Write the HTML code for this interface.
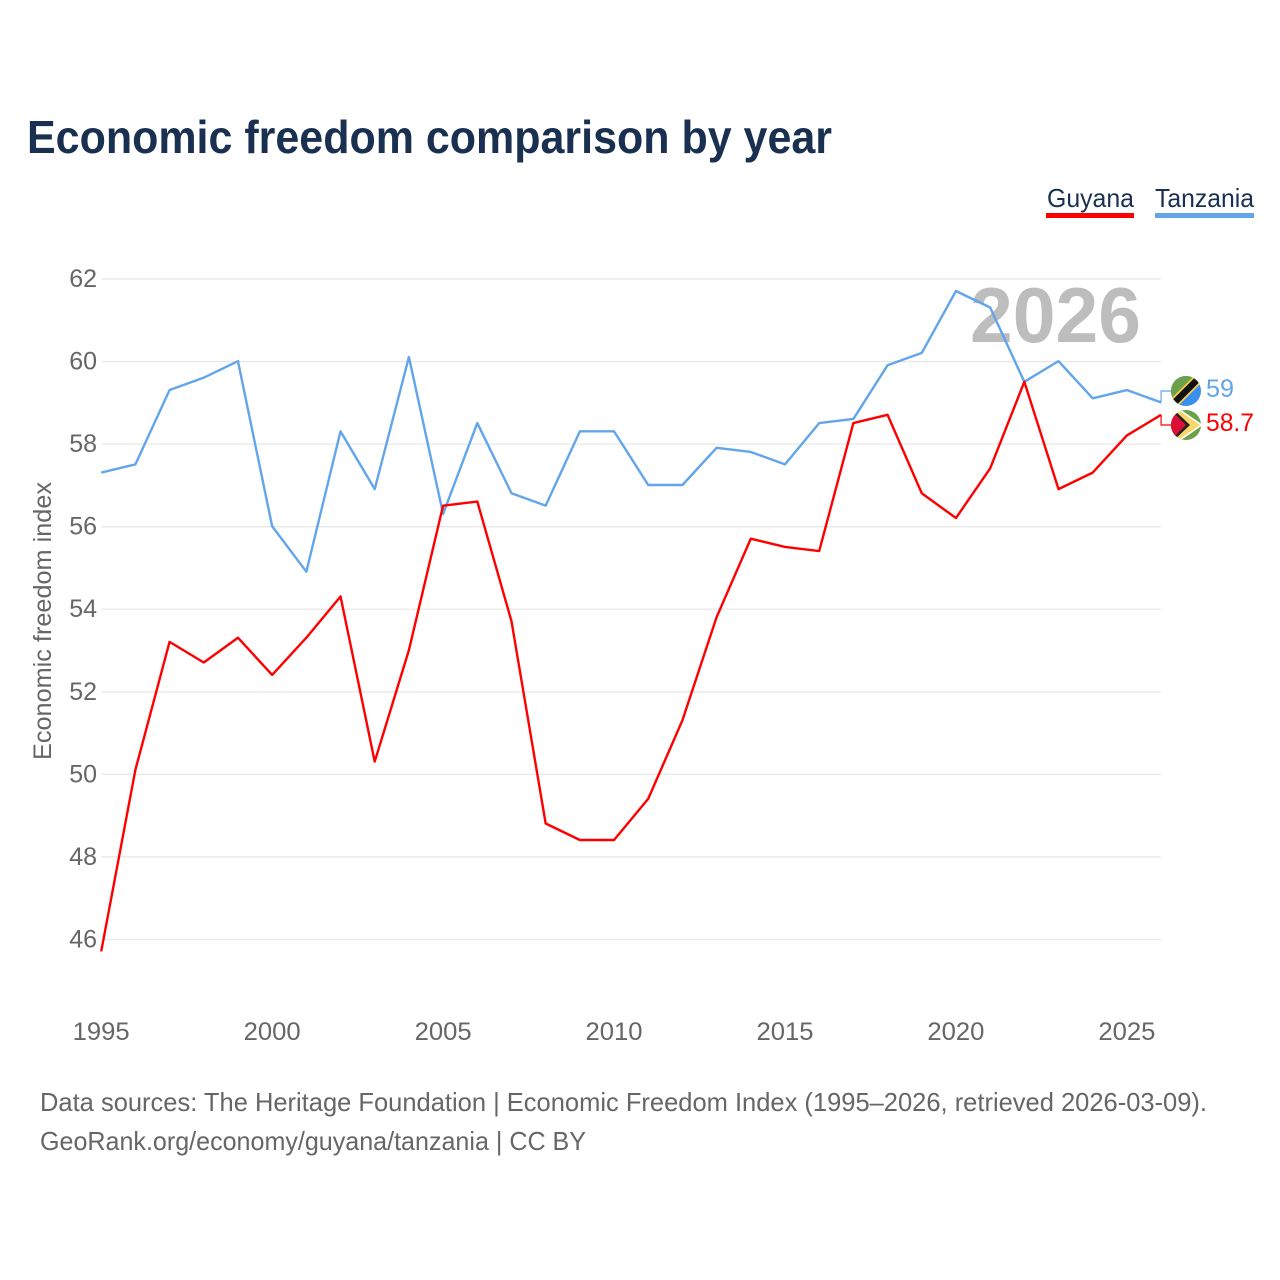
<!DOCTYPE html>
<html>
<head>
<meta charset="utf-8">
<style>
html,body{margin:0;padding:0;background:#fff;}
svg{display:block;}
text{font-family:"Liberation Sans",sans-serif;}
</style>
</head>
<body>
<svg id="chart" width="1280" height="1280" viewBox="0 0 1280 1280" xmlns="http://www.w3.org/2000/svg">
  <defs>
    <clipPath id="flag-clip-tz"><circle cx="1186" cy="391" r="15"/></clipPath>
    <clipPath id="flag-clip-gy"><circle cx="1186" cy="425" r="15"/></clipPath>
  </defs>
  <rect width="1280" height="1280" fill="#fff"/>
  <text x="27" y="153" font-size="46" font-weight="700" fill="#1a3050" textLength="805" lengthAdjust="spacingAndGlyphs">Economic freedom comparison by year</text>
  <g id="grid"></g>
  <text x="970" y="342" font-size="78" font-weight="700" fill="#bdbdbd" textLength="171" lengthAdjust="spacingAndGlyphs">2026</text>
  <g id="yticks"></g>
  <g id="xticks"></g>
  <text transform="translate(51,760) rotate(-90)" font-size="25" fill="#666" textLength="278" lengthAdjust="spacingAndGlyphs">Economic freedom index</text>
  <g id="series"></g>

  <g>
    <text x="1047" y="207" font-size="26" fill="#1a3050" textLength="87" lengthAdjust="spacingAndGlyphs">Guyana</text>
    <rect x="1046" y="213" width="88" height="5" fill="#ff0000"/>
  </g>
  <g>
    <text x="1155" y="207" font-size="26" fill="#1a3050" textLength="99" lengthAdjust="spacingAndGlyphs">Tanzania</text>
    <rect x="1155" y="213" width="99" height="5" fill="#62a5ea"/>
  </g>

  <g clip-path="url(#flag-clip-tz)">
    <rect x="1171" y="376" width="30" height="30" fill="#3a8ef0"/>
    <polygon points="1171,376 1201,376 1171,406" fill="#6da04a"/>
    <line x1="1172" y1="405" x2="1200" y2="377" stroke="#f5d04a" stroke-width="10"/>
    <line x1="1172" y1="405" x2="1200" y2="377" stroke="#111" stroke-width="6.5"/>
  </g>
  <g clip-path="url(#flag-clip-gy)">
    <rect x="1171" y="410" width="30" height="30" fill="#6da04a"/>
    <polygon points="1171,403 1203,425 1171,447" fill="#fff"/>
    <polygon points="1171,405 1200,425 1171,445" fill="#f7d768"/>
    <polygon points="1171,407 1190,425 1171,443" fill="#222"/>
    <polygon points="1171,410 1186,425 1171,440" fill="#dc0f35"/>
  </g>

  <text x="40" y="1111" font-size="26" fill="#666" textLength="1167" lengthAdjust="spacingAndGlyphs">Data sources: The Heritage Foundation | Economic Freedom Index (1995–2026, retrieved 2026-03-09).</text>
  <text x="40" y="1150" font-size="26" fill="#666" textLength="546" lengthAdjust="spacingAndGlyphs">GeoRank.org/economy/guyana/tanzania | CC BY</text>
</svg>
<script>
const years = [1995,1996,1997,1998,1999,2000,2001,2002,2003,2004,2005,2006,2007,2008,2009,2010,2011,2012,2013,2014,2015,2016,2017,2018,2019,2020,2021,2022,2023,2024,2025,2026];
const guyanaValues = [45.7,50.1,53.2,52.7,53.3,52.4,53.3,54.3,50.3,53.0,56.5,56.6,53.7,48.8,48.4,48.4,49.4,51.3,53.8,55.7,55.5,55.4,58.5,58.7,56.8,56.2,57.4,59.5,56.9,57.3,58.2,58.7];
const tanzaniaValues = [57.3,57.5,59.3,59.6,60.0,56.0,54.9,58.3,56.9,60.1,56.3,58.5,56.8,56.5,58.3,58.3,57.0,57.0,57.9,57.8,57.5,58.5,58.6,59.9,60.2,61.7,61.3,59.5,60.0,59.1,59.3,59.0];
const yTickValues = [46,48,50,52,54,56,58,60,62];
const xTickValues = [1995,2000,2005,2010,2015,2020,2025];

const NS = 'http://www.w3.org/2000/svg';
function xScale(year){ return 101.2 + (year - 1995) * 34.19; }
function yScale(v){ return 278.6 + (62 - v) * 41.28; }
function gridY(v){ return 279 + (62 - v) * 41.28; }
function make(tag, attrs, parent){
  const el = document.createElementNS(NS, tag);
  for (const k in attrs) el.setAttribute(k, attrs[k]);
  parent.appendChild(el);
  return el;
}
const grid = document.getElementById('grid');
const yticks = document.getElementById('yticks');
const xticks = document.getElementById('xticks');
const series = document.getElementById('series');

yTickValues.forEach(function(v){
  const line = make('line', {x1:101.5, x2:1161, y1:gridY(v), y2:gridY(v), stroke:'#e8e8e8', 'stroke-width':1.3}, grid);
  
  
  const label = make('text', {x:97, y:gridY(v)+8, 'text-anchor':'end', 'font-size':25, fill:'#666'}, yticks);
  
  
  label.textContent = v;
});
xTickValues.forEach(function(y){
  const label = make('text', {x:xScale(y), y:1040, 'text-anchor':'middle', 'font-size':25, fill:'#666', textLength:57, lengthAdjust:'spacingAndGlyphs'}, xticks);
  
  
  label.textContent = y;
});

function drawSeries(values, color, name){
  const pts = values.map(function(v, i){ return xScale(years[i]) + ',' + yScale(v); }).join(' ');
  const line = make('polyline', {points:pts, fill:'none', stroke:color, 'stroke-width':2.4, 'stroke-linejoin':'round'}, series);
  
  
}
drawSeries(tanzaniaValues, '#62a5ea', 'tanzania-line');
drawSeries(guyanaValues, '#ff0000', 'guyana-line');

function endLabel(values, color, flagY, baseline, labelName, connectorName, width){
  const last = values[values.length - 1];
  const xEnd = xScale(years[years.length - 1]);
  const yEnd = yScale(last);
  const path = make('polyline', {points:[xEnd,yEnd,xEnd,flagY,xEnd+10,flagY].join(' '), fill:'none', stroke:color, 'stroke-width':1.2}, series);
  
  
  const t = make('text', {x:1206, y:baseline, 'font-size':25, fill:color, textLength:width, lengthAdjust:'spacingAndGlyphs'}, series);
  
  
  t.textContent = last;
}
endLabel(tanzaniaValues, '#62a5ea', 391, 397, 'tanzania-end-label', 'tanzania-connector', 28);
endLabel(guyanaValues, '#ff0000', 425, 431, 'guyana-end-label', 'guyana-connector', 48);
</script>
</body>
</html>
